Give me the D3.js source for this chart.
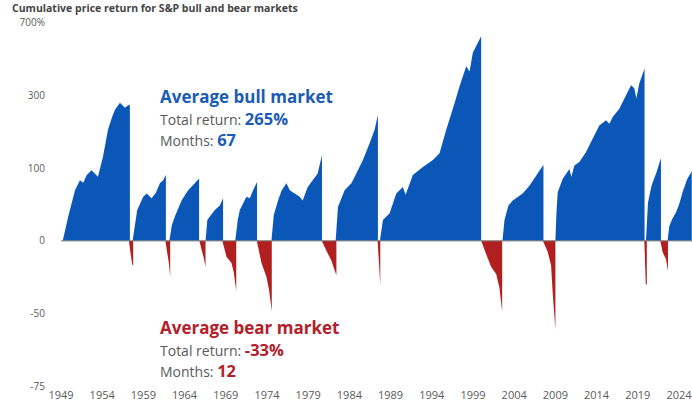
<!DOCTYPE html>
<html lang="en">
<head>
    <meta charset="UTF-8">
    <title>Bull and bear markets</title>
    <script src="https://d3js.org/d3.v7.min.js"></script>
    <style>
        body { margin: 0; background: #fff; }
        svg { display: block; font-family: "Open Sans", Lato, sans-serif; }
    </style>
</head>
<body>
    <div id="chart"></div>
    <script>
        const w = 692;
        const h = 404;
        const blue = "#0b57b8";
        const red = "#b21f1f";
        const grey = "#5a5a5a";

        // [year, cumulative price return %]
        const bullMarkets = [
            [[1949.21, 0], [1949.88, 26], [1950.70, 62], [1951.30, 78], [1951.70, 74], [1952.12, 87], [1952.72, 96], [1953.48, 84], [1954.09, 122], [1954.70, 188], [1955.20, 225], [1955.55, 248], [1956.15, 272], [1956.76, 255], [1957.24, 265], [1957.36, 262]],
            [[1957.69, 0], [1958.25, 34], [1958.98, 52], [1959.39, 57], [1959.99, 50], [1960.52, 58], [1961.00, 73], [1961.40, 78], [1961.73, 87]],
            [[1962.15, 0], [1962.45, 16], [1962.82, 26], [1963.63, 47], [1964.43, 62], [1965.24, 73], [1965.76, 81]],
            [[1966.54, 0], [1966.76, 22], [1967.06, 26], [1967.67, 34], [1968.27, 40], [1968.67, 50]],
            [[1970.15, 0], [1970.45, 22], [1970.70, 34], [1971.51, 52], [1971.91, 50], [1972.31, 62], [1972.79, 75]],
            [[1974.54, 0], [1974.82, 28], [1975.34, 47], [1975.79, 62], [1976.36, 73], [1976.76, 62], [1977.97, 52], [1978.33, 47], [1978.94, 67], [1979.55, 78], [1980.15, 90], [1980.67, 126]],
            [[1982.33, 0], [1982.61, 38], [1983.42, 62], [1984.24, 73], [1984.84, 90], [1985.64, 116], [1986.45, 153], [1987.06, 188], [1987.46, 232]],
            [[1987.70, 0], [1988.07, 22], [1988.88, 30], [1989.69, 57], [1990.49, 67], [1990.82, 55], [1991.70, 87], [1992.92, 102], [1994.13, 116], [1994.94, 130], [1995.75, 188], [1996.76, 271], [1997.36, 335], [1998.18, 427], [1998.58, 401], [1998.98, 499], [1999.58, 559], [1999.99, 602]],
            [[2002.58, 0], [2002.82, 22], [2003.30, 40], [2003.82, 47], [2005.03, 57], [2005.85, 69], [2006.66, 86], [2007.06, 95], [2007.55, 106]],
            [[2009.00, 0], [2009.12, 29], [2009.28, 59], [2009.88, 80], [2010.70, 98], [2010.94, 84], [2011.30, 105], [2011.91, 112], [2012.72, 133], [2013.52, 164], [2014.33, 200], [2015.15, 215], [2015.55, 205], [2015.95, 225], [2016.76, 252], [2017.57, 300], [2018.18, 340], [2018.58, 327], [2018.82, 288], [2019.18, 347], [2019.82, 416]],
            [[2019.99, 0], [2020.24, 44], [2020.66, 69], [2021.27, 92], [2021.81, 120]],
            [[2022.61, 0], [2022.82, 15], [2023.18, 23], [2023.63, 31], [2024.03, 42], [2024.43, 59], [2025.00, 80], [2025.55, 94]]
        ];

        const bearMarkets = [
            [[1957.24, 0], [1957.48, -13], [1957.67, -21], [1957.76, -20]],
            [[1961.67, 0], [1961.85, -9], [1962.09, -19], [1962.25, -29]],
            [[1965.79, 0], [1966.09, -9], [1966.33, -15], [1966.54, -22]],
            [[1968.58, 0], [1969.08, -14], [1969.69, -19], [1969.97, -26], [1970.27, -38]],
            [[1972.76, 0], [1973.33, -19], [1973.93, -29], [1974.27, -38], [1974.58, -49]],
            [[1980.64, 0], [1981.21, -9], [1981.81, -17], [1982.42, -28]],
            [[1987.42, 0], [1987.61, -21], [1987.75, -35]],
            [[1999.99, 0], [2000.60, -12], [2001.21, -22], [2001.81, -27], [2002.21, -36], [2002.54, -49]],
            [[2007.48, 0], [2008.07, -10], [2008.48, -21], [2008.67, -39], [2009.00, -57]],
            [[2019.79, 0], [2019.97, -34], [2020.09, -34]],
            [[2021.73, 0], [2022.01, -10], [2022.42, -16], [2022.66, -25]]
        ];

        const yTicks = [700, 300, 100, 0, -50, -75];
        const yTickLabels = ["700%", "300", "100", "0", "-50", "-75"];
        const xTicks = d3.range(1949, 2025, 5);

        const x = d3.scaleLinear().domain([1949, 2024]).range([61, 679]);
        const y = d3.scaleLog().base(2).domain([0.25, 8]).range([386.5, 22.4]);
        const yPct = v => y(1 + v / 100);

        const svg = d3.select("#chart")
            .append("svg")
            .attr("width", w)
            .attr("height", h);

        svg.append("text")
            .attr("x", 12)
            .attr("y", 12)
            .attr("font-size", 10.5)
            .attr("font-weight", "bold")
            .attr("fill", "#444")
            .text("Cumulative price return for S&P bull and bear markets");

        const area = d3.area()
            .x(d => x(d[0]))
            .y0(yPct(0))
            .y1(d => yPct(d[1]));

        svg.append("g")
            .selectAll("path")
            .data(bullMarkets)
            .join("path")
            .attr("d", area)
            .attr("fill", blue);

        svg.append("g")
            .selectAll("path")
            .data(bearMarkets)
            .join("path")
            .attr("d", area)
            .attr("fill", red);

        svg.append("line")
            .attr("x1", 61)
            .attr("x2", w)
            .attr("y1", yPct(0))
            .attr("y2", yPct(0))
            .attr("stroke", "#777")
            .attr("stroke-width", 1);

        svg.append("g")
            .selectAll("text")
            .data(yTicks)
            .join("text")
            .attr("x", 45)
            .attr("y", d => yPct(d))
            .attr("dy", "0.35em")
            .attr("text-anchor", "end")
            .attr("font-size", 10)
            .attr("fill", grey)
            .text((d, i) => yTickLabels[i]);

        svg.append("g")
            .selectAll("text")
            .data(xTicks)
            .join("text")
            .attr("x", d => x(d))
            .attr("y", 399)
            .attr("text-anchor", "middle")
            .attr("font-size", 11)
            .attr("fill", grey)
            .text(d => d);

        const notes = [
            { top: 103, title: "Average bull market", ret: "265%", months: "67", color: "#1a5cb4" },
            { top: 334, title: "Average bear market", ret: "-33%", months: "12", color: "#b4202a" }
        ];

        notes.forEach(n => {
            const g = svg.append("g").attr("transform", `translate(160,${n.top})`);
            g.append("text")
                .attr("font-size", 17)
                .attr("font-weight", "bold")
                .attr("fill", n.color)
                .text(n.title);
            const t1 = g.append("text").attr("y", 22).attr("font-size", 14).attr("fill", grey);
            t1.append("tspan").text("Total return: ");
            t1.append("tspan").attr("font-size", 16.5).attr("font-weight", "bold").attr("fill", n.color).text(n.ret);
            const t2 = g.append("text").attr("y", 43).attr("font-size", 14).attr("fill", grey);
            t2.append("tspan").text("Months: ");
            t2.append("tspan").attr("font-size", 16.5).attr("font-weight", "bold").attr("fill", n.color).text(n.months);
        });
    </script>
</body>
</html>
